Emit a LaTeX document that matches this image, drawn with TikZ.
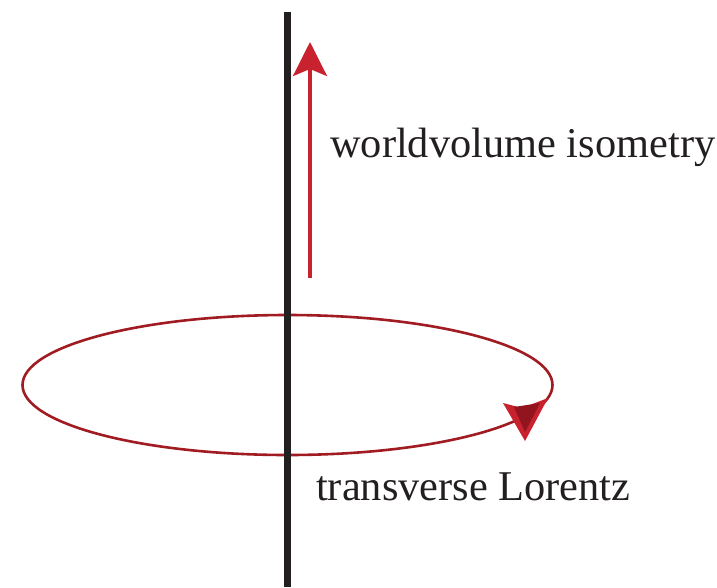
\documentclass[tikz,border=0pt]{standalone}
\usepackage{fontspec}
\setmainfont{Liberation Serif}
\usepackage{xcolor}
\usetikzlibrary{arrows.meta,positioning}
\definecolor{axisblack}{RGB}{35,31,32}
\definecolor{arrowred}{RGB}{200,34,46}
\definecolor{loopred}{RGB}{160,28,34}
\definecolor{tipdark}{RGB}{145,20,30}

\begin{document}
\begin{tikzpicture}[
  x=1pt,y=-1pt,
  brane/.style={draw=axisblack,line width=7pt},
  loopline/.style={draw=loopred,line width=2.6pt},
  uparr/.style={draw=arrowred,line width=3.5pt,-{Stealth[length=34pt,width=34pt,inset=7pt]}},
  lbl/.style={font=\fontsize{42.4}{48}\selectfont,text=axisblack,inner sep=0pt,anchor=base west}
]
\useasboundingbox (0,0) rectangle (717,587);
\coordinate (btop) at (287.5,12);
\coordinate (bbot) at (287.5,587);
\coordinate (ctr) at (287.5,385);
\coordinate (a0) at (310,278);
\coordinate (a1) at (310,42);
% rotation loop
\draw[loopline] (ctr) ellipse [x radius=265, y radius=70];
\fill[arrowred] (503,403) -- (522,408) -- (548,398) -- (525,441) -- cycle;
\fill[tipdark] (514,407) -- (540,403) -- (525,432) -- cycle;
% brane
\draw[brane] (btop) -- (bbot);
\draw[uparr] (a0) -- (a1);
\node[lbl] (iso) at (330,157) {worldvolume isometry};
\node[lbl] (lor) at (316,500) {transverse Lorentz};
\end{tikzpicture}
\end{document}
